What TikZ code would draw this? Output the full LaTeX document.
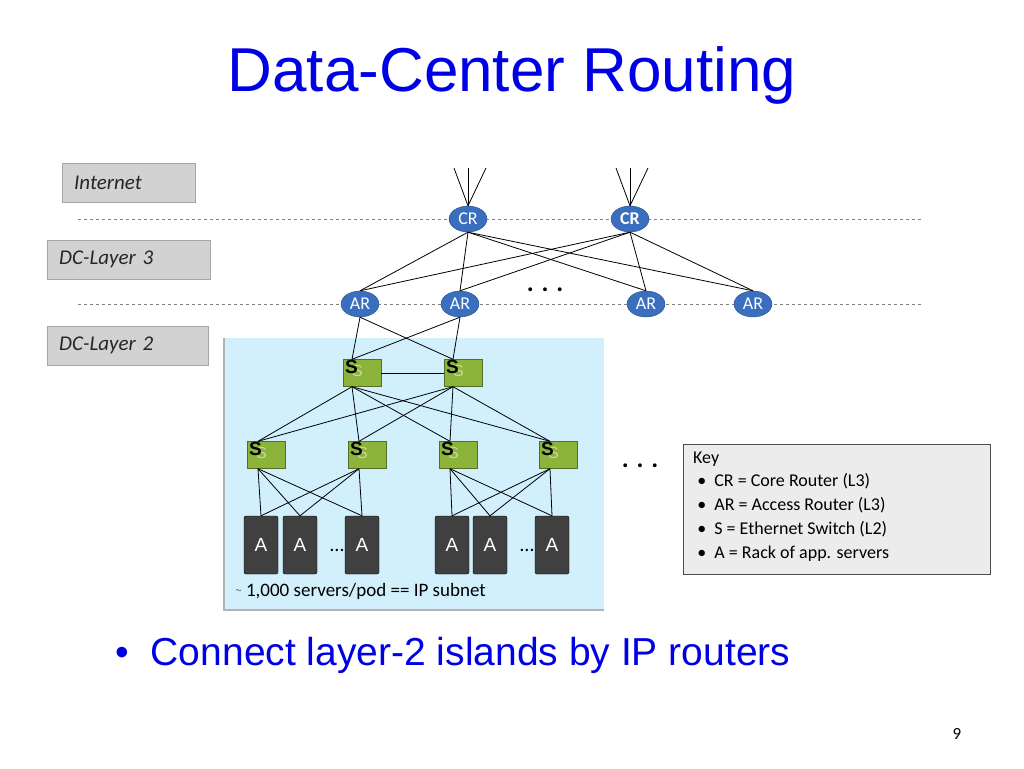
\documentclass[tikz,border=0pt]{standalone}
\usepackage{fontspec}
\setmainfont{Carlito}
\newfontfamily\arial{Liberation Sans}
\usetikzlibrary{shapes.geometric}
\definecolor{rtb}{HTML}{3A6FBF}
\definecolor{swg}{HTML}{8DB43A}
\begin{document}
\begin{tikzpicture}[x=1pt,y=-1pt,
 lay/.style={draw=gray!70,fill=gray!35,minimum height=39pt,anchor=north west,inner sep=0pt,align=left,font=\fontsize{21}{24}\selectfont\itshape,text=black!85},
 rt/.style={ellipse,draw=rtb!70!black,fill=rtb,text=white,minimum width=38pt,minimum height=26pt,inner sep=0pt,font=\fontsize{18}{20}\selectfont},
 sw/.style={draw=swg!60!black,fill=swg,minimum width=38pt,minimum height=27pt,inner sep=0pt},
 rk/.style={draw=black,fill=black!75,rounded corners=2pt,minimum width=34pt,minimum height=58pt,text=white,font=\arial\fontsize{19}{20}\selectfont},
 ln/.style={black,line width=0.8pt},
 dl/.style={gray,dashed,line width=0.8pt}]
\useasboundingbox (0,0) rectangle (1024,768);
\node[text=blue!90!black,font=\arial\fontsize{62}{70}\selectfont] (title) at (512,75) {Data-Center Routing};
\node[lay,text width=125pt,minimum width=133pt,text depth=0pt] (inet) at (62,163) {\hspace*{8pt}Internet};
\node[lay,text width=155pt,minimum width=163pt] (l3) at (47,240) {\hspace*{8pt}DC-Layer 3};
\node[lay,text width=153pt,minimum width=161pt] (l2) at (47,326) {\hspace*{8pt}DC-Layer 2};
\fill[cyan!18] (224,338) rectangle (604,610);
\draw[gray!60,line width=1.2pt] (224,338) -- (224,610) -- (604,610);
\coordinate (d1a) at (78,219); \coordinate (d1b) at (922,219);
\coordinate (d2a) at (78,304); \coordinate (d2b) at (922,304);
\draw[dl] (d1a) -- (d1b); \draw[dl] (d2a) -- (d2b);
\node[rt] (cr1) at (468,219) {CR};
\node[rt] (cr2) at (630,219) {\bfseries CR};
\node[rt] (ar1) at (360,304) {AR};
\node[rt] (ar2) at (460,304) {AR};
\node[rt] (ar3) at (646,304) {AR};
\node[rt] (ar4) at (753,304) {AR};
\node[font=\fontsize{26}{26}\selectfont\bfseries] (dots1) at (545,290) {. . .};
\node[font=\fontsize{26}{26}\selectfont\bfseries] (dots2) at (640,466) {. . .};
\foreach \c/\x in {cr1/468,cr2/630}{
 \foreach \dx in {-14,0,18}{\coordinate (t\c\dx) at (\x+\dx,168); \draw[ln] (\c.north) -- (t\c\dx);}}
\foreach \c in {cr1,cr2}\foreach \a in {ar1,ar2,ar3,ar4}\draw[ln] (\c.south) -- (\a.north);
\newcommand{\swnode}[3]{\node[sw] (#1) at (#2,#3) {};
 \node[font=\arial\fontsize{16}{18}\selectfont,text=white!50!swg,anchor=north west,inner sep=0pt] at ([shift={(9pt,-6pt)}]#1.north west) {S};
 \node[font=\arial\bfseries\fontsize{19}{20}\selectfont,anchor=north west,inner sep=0pt] at ([shift={(2pt,-1pt)}]#1.north west) {S};}
\swnode{s1}{362}{373}\swnode{s2}{463}{373}
\swnode{s3}{266}{455}\swnode{s4}{367}{455}\swnode{s5}{458}{455}\swnode{s6}{558}{455}
\foreach \a in {ar1,ar2}\foreach \s in {s1,s2}\draw[ln] (\a.south) -- ([xshift=-10pt]\s.north);
\draw[ln] (s1.east) -- (s2.west);
\foreach \a in {s1,s2}\foreach \s in {s3,s4,s5,s6}\draw[ln] ([xshift=-10pt]\a.south) -- ([xshift=-8pt]\s.north);
\node[rk] (r1) at (261,545) {A}; \node[rk] (r2) at (300,545) {A}; \node[rk] (r3) at (362,545) {A};
\node[rk] (r4) at (452,545) {A}; \node[rk] (r5) at (490,545) {A}; \node[rk] (r6) at (552,545) {A};
\node[font=\fontsize{20}{20}\selectfont] (e1) at (337,550) {\dots}; \node[font=\fontsize{20}{20}\selectfont] (e2) at (527,550) {\dots};
\foreach \s in {s3,s4}\foreach \r in {r1,r2,r3}\draw[ln] ([xshift=-8pt]\s.south) -- (\r.north);
\foreach \s in {s5,s6}\foreach \r in {r4,r5,r6}\draw[ln] ([xshift=-8pt]\s.south) -- (\r.north);
\node[anchor=west,font=\fontsize{19}{22}\selectfont] (pod) at (232,591) {\raisebox{4pt}{\scriptsize$\sim$} 1,000 servers/pod == IP subnet};
\node[draw=black!70,fill=gray!15,anchor=north west,minimum width=307pt,minimum height=130pt,inner sep=0pt] (key) at (683,444) {};
\node[anchor=north west,align=left,font=\fontsize{18}{24}\selectfont,inner sep=0pt] (keyt) at (693,452) {Key\\[-1pt]
\ \textbullet\ \ CR = Core Router (L3)\\ \ \textbullet\ \ AR = Access Router (L3)\\ \ \textbullet\ \ S = Ethernet Switch (L2)\\ \ \textbullet\ \ A = Rack of app. servers};
\node[anchor=west,text=blue!90!black,font=\arial\fontsize{39}{44}\selectfont] (bul) at (112,655) {\textbullet\ \ Connect layer-2 islands by IP routers};
\node[font=\fontsize{17}{20}\selectfont] (pg) at (957,734) {9};
\end{tikzpicture}
\end{document}
